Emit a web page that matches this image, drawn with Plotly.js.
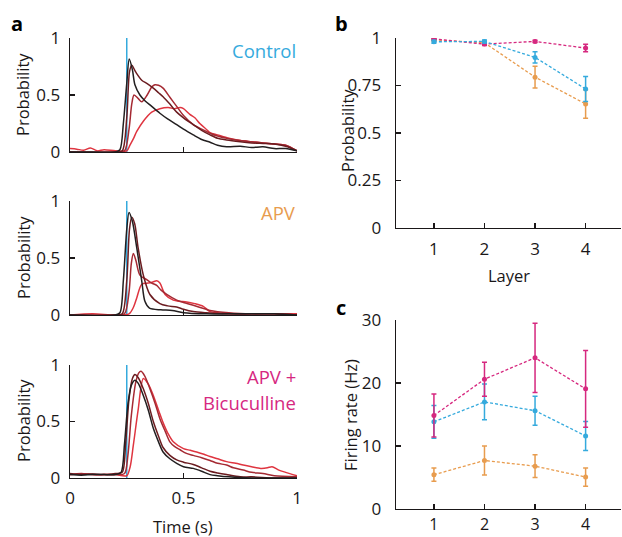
<!DOCTYPE html>
<html>
<head>
<meta charset="utf-8">
<script src="https://cdn.plot.ly/plotly-3.0.1.min.js"></script>
<style>html,body{margin:0;padding:0;background:#fff;}#chart{width:622px;height:537px;}</style>
</head>
<body>
<div id="chart"></div>
<script>
// ---------- Panel a: time courses ----------
var stimT = [0.25, 0.25];
var stimP = [0, 1];

// Control
var ctrlBlackT = [0,0.1,0.2,0.22,0.235,0.25,0.261,0.275,0.286,0.308,0.33,0.36,0.396,0.43,0.47,0.5,0.543,0.58,0.617,0.65,0.69,0.75,0.8,0.85,0.9,0.95,1];
var ctrlBlackP = [0,0,0,0.02,0.25,0.6,0.815,0.72,0.59,0.5,0.45,0.4,0.34,0.29,0.24,0.2,0.15,0.11,0.085,0.06,0.047,0.05,0.04,0.045,0.03,0.03,0.01];
var ctrlMaroonT = [0,0.2,0.23,0.25,0.262,0.272,0.29,0.316,0.34,0.367,0.39,0.41,0.44,0.47,0.5,0.543,0.58,0.617,0.65,0.69,0.75,0.8,0.85,0.9,0.95,1];
var ctrlMaroonP = [0,0,0.01,0.3,0.7,0.76,0.7,0.63,0.6,0.56,0.52,0.485,0.42,0.35,0.3,0.24,0.19,0.15,0.12,0.105,0.09,0.08,0.075,0.07,0.05,0.01];
var ctrlMedT = [0,0.2,0.24,0.26,0.272,0.282,0.3,0.316,0.34,0.36,0.374,0.39,0.41,0.44,0.47,0.5,0.543,0.58,0.617,0.65,0.69,0.75,0.8,0.85,0.9,0.95,1];
var ctrlMedP = [0,0,0.01,0.2,0.42,0.5,0.47,0.44,0.5,0.57,0.59,0.585,0.56,0.48,0.4,0.32,0.24,0.2,0.165,0.14,0.12,0.1,0.09,0.08,0.07,0.06,0.01];
var ctrlRedT = [0,0.03,0.06,0.09,0.12,0.15,0.2,0.25,0.264,0.28,0.294,0.323,0.36,0.396,0.433,0.46,0.485,0.5,0.528,0.55,0.572,0.6,0.617,0.65,0.7,0.75,0.8,0.85,0.9,0.95,1];
var ctrlRedP = [0.03,0.025,0.015,0.035,0.01,0.02,0.01,0.01,0.06,0.12,0.18,0.27,0.35,0.38,0.39,0.38,0.39,0.38,0.33,0.3,0.25,0.2,0.17,0.15,0.12,0.1,0.09,0.08,0.07,0.06,0.01];

// APV
var apvBlackT = [0,0.2,0.22,0.235,0.25,0.26,0.275,0.294,0.316,0.33,0.35,0.4,0.45,0.5,0.6,0.7,0.8,0.9,1];
var apvBlackP = [0,0,0.02,0.3,0.75,0.9,0.82,0.59,0.3,0.12,0.06,0.045,0.04,0.02,0.01,0.01,0.01,0.01,0];
var apvMaroonT = [0,0.2,0.23,0.25,0.262,0.272,0.285,0.3,0.323,0.352,0.396,0.43,0.47,0.5,0.543,0.6,0.7,0.8,0.9,1];
var apvMaroonP = [0,0,0.01,0.3,0.75,0.857,0.8,0.59,0.35,0.18,0.1,0.08,0.07,0.05,0.03,0.02,0.01,0.01,0.01,0];
var apvMedT = [0,0.2,0.24,0.26,0.27,0.279,0.29,0.308,0.338,0.36,0.382,0.4,0.426,0.47,0.5,0.543,0.6,0.617,0.7,0.8,0.9,1];
var apvMedP = [0,0,0.01,0.2,0.45,0.54,0.48,0.35,0.31,0.28,0.26,0.22,0.18,0.13,0.11,0.085,0.05,0.04,0.02,0.01,0.01,0];
var apvRedT = [0,0.1,0.2,0.26,0.28,0.294,0.316,0.345,0.365,0.382,0.396,0.419,0.455,0.48,0.514,0.55,0.587,0.617,0.65,0.7,0.8,0.9,1];
var apvRedP = [0,0.01,0,0.01,0.07,0.15,0.27,0.28,0.29,0.3,0.28,0.18,0.13,0.12,0.115,0.1,0.076,0.03,0.02,0.01,0.01,0.01,0.01];

// APV + Bicuculline
var bicBlackT = [0,0.05,0.1,0.15,0.2,0.225,0.24,0.255,0.27,0.286,0.3,0.323,0.345,0.367,0.39,0.41,0.44,0.47,0.5,0.543,0.58,0.617,0.65,0.7,0.8,0.9,1];
var bicBlackP = [0.03,0.025,0.03,0.03,0.03,0.05,0.3,0.65,0.82,0.865,0.84,0.73,0.6,0.44,0.32,0.23,0.17,0.13,0.1,0.085,0.06,0.03,0.02,0.01,0,0,0];
var bicMaroonT = [0,0.05,0.1,0.15,0.2,0.23,0.245,0.26,0.275,0.286,0.3,0.323,0.345,0.367,0.39,0.41,0.44,0.47,0.5,0.543,0.58,0.617,0.65,0.69,0.75,0.8,0.9,1];
var bicMaroonP = [0.04,0.03,0.035,0.03,0.04,0.05,0.3,0.7,0.88,0.915,0.89,0.79,0.66,0.5,0.37,0.27,0.2,0.16,0.14,0.12,0.09,0.06,0.045,0.03,0.01,0.01,0,0];
var bicMedT = [0,0.05,0.1,0.15,0.2,0.24,0.255,0.27,0.29,0.303,0.313,0.33,0.352,0.375,0.396,0.42,0.44,0.46,0.485,0.51,0.543,0.58,0.617,0.65,0.69,0.72,0.763,0.8,0.85,0.9,1];
var bicMedP = [0.03,0.04,0.03,0.03,0.03,0.04,0.2,0.55,0.85,0.93,0.944,0.9,0.79,0.66,0.525,0.41,0.32,0.28,0.25,0.22,0.2,0.18,0.155,0.13,0.115,0.09,0.07,0.05,0.04,0.02,0.01];
var bicRedT = [0,0.05,0.1,0.15,0.2,0.25,0.265,0.279,0.3,0.323,0.345,0.367,0.39,0.41,0.43,0.455,0.5,0.53,0.558,0.59,0.617,0.65,0.69,0.73,0.763,0.8,0.84,0.87,0.89,0.92,0.95,1];
var bicRedP = [0.03,0.035,0.03,0.03,0.03,0.02,0.1,0.29,0.6,0.88,0.83,0.73,0.6,0.49,0.4,0.32,0.26,0.245,0.23,0.21,0.19,0.17,0.145,0.13,0.115,0.1,0.085,0.09,0.1,0.07,0.05,0.02];

// ---------- Panel b / c ----------
var layers = [1, 2, 3, 4];
var layerTicks = ['1', '2', '3', '4'];
var probCtrl = [0.98, 0.982, 0.898, 0.732];
var probCtrlErr = [0.008, 0.008, 0.03, 0.066];
var probAPV = [0.99, 0.975, 0.794, 0.653];
var probAPVErr = [0.006, 0.008, 0.057, 0.075];
var probBic = [0.995, 0.968, 0.982, 0.947];
var probBicErr = [0.005, 0.008, 0.006, 0.02];

var rateCtrl = [13.84, 17.0, 15.6, 11.6];
var rateCtrlErr = [2.6, 2.85, 2.3, 2.3];
var rateAPV = [5.44, 7.7, 6.8, 5.07];
var rateAPVErr = [1.05, 2.3, 1.8, 1.45];
var rateBic = [14.84, 20.6, 24.0, 19.07];
var rateBicErr = [3.4, 2.7, 5.5, 6.1];

var probTickVals = [0, 0.25, 0.5, 0.75, 1];
var probTickText = ['0', '0.25', '0.5', '0.75', '1'];
var rateTickVals = [0, 10, 20, 30];
var timeTickVals = [0, 0.5, 1];
var timeTickText = ['0', '0.5', '1'];
var aTickVals = [0, 0.5, 1];
var aTickText = ['0', '0.5', '1'];

// ---------- styling ----------
var W = 622, H = 537;
var FONT = 'Open Sans, sans-serif';
var AX = '#1a1718';
var cBlack = '#231f20', cMaroon = '#6b1c20', cMed = '#a52a33', cRed = '#df3540';
var cBlue = '#35aadd', cOrange = '#e89c4e', cMag = '#d6287f';

function px(x) { return x / W; }
function py(y) { return 1 - y / H; }

var traces = [];
function curve(t, p, color, xa, ya) {
  traces.push({x: t, y: p, type: 'scatter', mode: 'lines', xaxis: xa, yaxis: ya,
    line: {color: color, width: 1.5, shape: 'spline', smoothing: 0.8}, hoverinfo: 'skip', showlegend: false});
}
var panels = [
  ['x', 'y', [ctrlMedT, ctrlMedP], [ctrlRedT, ctrlRedP], [ctrlMaroonT, ctrlMaroonP], [ctrlBlackT, ctrlBlackP]],
  ['x2', 'y2', [apvMedT, apvMedP], [apvRedT, apvRedP], [apvMaroonT, apvMaroonP], [apvBlackT, apvBlackP]],
  ['x3', 'y3', [bicMedT, bicMedP], [bicRedT, bicRedP], [bicMaroonT, bicMaroonP], [bicBlackT, bicBlackP]]
];
panels.forEach(function (pn) {
  traces.push({x: stimT, y: stimP, type: 'scatter', mode: 'lines', xaxis: pn[0], yaxis: pn[1],
    line: {color: cBlue, width: 1.5}, hoverinfo: 'skip', showlegend: false});
  curve(pn[3][0], pn[3][1], cRed, pn[0], pn[1]);
  curve(pn[2][0], pn[2][1], cMed, pn[0], pn[1]);
  curve(pn[4][0], pn[4][1], cMaroon, pn[0], pn[1]);
  curve(pn[5][0], pn[5][1], cBlack, pn[0], pn[1]);
});

function errLine(y, err, color, xa, ya) {
  traces.push({x: layers, y: y, type: 'scatter', mode: 'lines+markers', xaxis: xa, yaxis: ya,
    line: {color: color, width: 1.3, dash: '3px,2px'},
    marker: {color: color, size: 5},
    error_y: {type: 'data', array: err, visible: true, color: color, thickness: 1.5, width: 2.5},
    hoverinfo: 'skip', showlegend: false});
}
errLine(probAPV, probAPVErr, cOrange, 'x4', 'y4');
errLine(probBic, probBicErr, cMag, 'x4', 'y4');
errLine(probCtrl, probCtrlErr, cBlue, 'x4', 'y4');
errLine(rateAPV, rateAPVErr, cOrange, 'x5', 'y5');
errLine(rateCtrl, rateCtrlErr, cBlue, 'x5', 'y5');
errLine(rateBic, rateBicErr, cMag, 'x5', 'y5');

function axBase(extra) {
  var a = {showline: true, linecolor: AX, linewidth: 1.4, ticks: 'inside', ticklen: 5,
    tickwidth: 1.4, tickcolor: AX, showgrid: false, zeroline: false,
    tickfont: {family: FONT, size: 17, color: AX}, fixedrange: true};
  for (var k in extra) a[k] = extra[k];
  return a;
}
var aXdom = [px(70), px(297)];
var bXdom = [px(396), px(621)];

var layout = {
  width: W, height: H,
  margin: {l: 0, r: 0, t: 0, b: 0},
  paper_bgcolor: '#fff', plot_bgcolor: 'rgba(0,0,0,0)',
  font: {family: FONT, color: AX},
  showlegend: false,
  xaxis: axBase({domain: aXdom, range: [0, 1], tickvals: timeTickVals, showticklabels: false, anchor: 'y'}),
  yaxis: axBase({domain: [py(152), py(38)], range: [0, 1], tickvals: aTickVals, ticktext: aTickText, anchor: 'x', ticklabelstandoff: 5}),
  xaxis2: axBase({domain: aXdom, range: [0, 1], tickvals: timeTickVals, showticklabels: false, anchor: 'y2'}),
  yaxis2: axBase({domain: [py(315), py(201)], range: [0, 1], tickvals: aTickVals, ticktext: aTickText, anchor: 'x2', ticklabelstandoff: 5}),
  xaxis3: axBase({domain: aXdom, range: [0, 1], tickvals: timeTickVals, ticktext: timeTickText, anchor: 'y3', ticklabelstandoff: 4}),
  yaxis3: axBase({domain: [py(478), py(365)], range: [0, 1], tickvals: aTickVals, ticktext: aTickText, anchor: 'x3', ticklabelstandoff: 5}),
  xaxis4: axBase({domain: bXdom, range: [0.25, 4.7], tickvals: layers, ticktext: layerTicks, anchor: 'y4', ticklabelstandoff: 5}),
  yaxis4: axBase({domain: [py(228), py(38)], range: [0, 1], tickvals: probTickVals, ticktext: probTickText, anchor: 'x4', ticklabelstandoff: 10}),
  xaxis5: axBase({domain: bXdom, range: [0.25, 4.7], tickvals: layers, ticktext: layerTicks, anchor: 'y5', ticklabelstandoff: 0,
    tickfont: {family: FONT, size: 16, color: AX}}),
  yaxis5: axBase({domain: [py(509), py(320)], range: [0, 30], tickvals: rateTickVals, anchor: 'x5', ticklabelstandoff: 10}),
  annotations: []
};

function ann(text, x, y, opts) {
  var a = {text: text, x: px(x), y: py(y), xref: 'paper', yref: 'paper', showarrow: false,
    xanchor: 'center', yanchor: 'middle', font: {family: FONT, size: 16.5, color: AX}};
  for (var k in opts) a[k] = opts[k];
  layout.annotations.push(a);
}
ann('<b>a</b>', 17, 24, {font: {family: FONT, size: 20, color: '#000'}});
ann('<b>b</b>', 342, 24, {font: {family: FONT, size: 20, color: '#000'}});
ann('<b>c</b>', 341, 307, {font: {family: FONT, size: 20, color: '#000'}});
ann('Probability', 23, 95, {textangle: -90});
ann('Probability', 23, 258, {textangle: -90});
ann('Probability', 23, 421, {textangle: -90});
ann('Time (s)', 183, 526);
ann('Probability', 347, 131, {textangle: -90});
ann('Layer', 509, 275);
ann('Firing rate (Hz)', 350, 415, {textangle: -90});
ann('Control', 298, 50, {xanchor: 'right', font: {family: FONT, size: 18.5, color: cBlue}});
ann('APV', 298, 213, {xanchor: 'right', font: {family: FONT, size: 18.5, color: cOrange}});
ann('APV +', 298, 376, {xanchor: 'right', font: {family: FONT, size: 18.5, color: cMag}});
ann('Bicuculline', 298, 402, {xanchor: 'right', font: {family: FONT, size: 18.5, color: cMag}});

Plotly.newPlot('chart', traces, layout, {displayModeBar: false, staticPlot: true});
</script>
</body>
</html>
